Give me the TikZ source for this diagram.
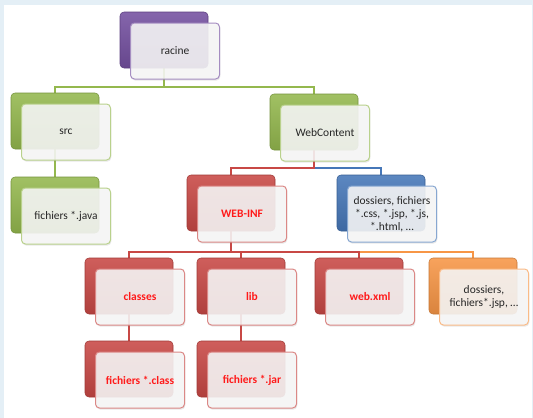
\documentclass[tikz,border=0pt]{standalone}
\usepackage{fontspec}
\setmainfont{Carlito}
\usetikzlibrary{shadows}
\pgfdeclarelayer{background}
\pgfdeclarelayer{bottom}
\pgfsetlayers{bottom,background,main}
\definecolor{cpurple}{HTML}{7450A0}
\definecolor{cgreen}{HTML}{94B84E}
\definecolor{cred}{HTML}{C84845}
\definecolor{cblue}{HTML}{4677B8}
\definecolor{corange}{HTML}{F79646}
\definecolor{cframe}{HTML}{E4EFF6}
\definecolor{ctxt}{HTML}{262626}
\definecolor{credtxt}{HTML}{FF1A1A}
\tikzset{
  backbox/.style={rounded corners=3pt, minimum width=66pt, minimum height=42pt,
    inner sep=0pt, top color=#1!88!white, bottom color=#1!88!black, draw=#1!80!black, line width=0.4pt},
  frontbox/.style={rounded corners=3pt, minimum width=66.75pt, minimum height=42pt,
    inner sep=1pt, align=center, draw=#1!65!white, line width=0.75pt,
    fill=gray!6, fill opacity=0.88, text opacity=1, draw opacity=1,
    drop shadow={opacity=0.18, shadow xshift=0.6pt, shadow yshift=-1.2pt},
    font=\fontsize{8.6}{9.8}\selectfont},
  plaintxt/.style={text=ctxt},
  redtxt/.style={text=credtxt, font=\fontsize{8.6}{9.8}\selectfont\bfseries},
  link/.style={draw=#1, line width=1.5pt}
}
\newcommand\orgbox[6]{%
  \node[backbox=#4] (#1b) at (#2+44,#3+28) {};
  \node[frontbox=#4, #6] (#1) at (#2+55,#3+39) {#5};
}
\begin{document}
\begin{tikzpicture}[x=0.75pt, y=-0.75pt]
\useasboundingbox (0,0) rectangle (533,418);
\begin{pgfonlayer}{bottom}
\fill[white] (0,0) rectangle (533,418);
\fill[cframe] (0,0) rectangle (533,5);
\fill[cframe] (0,0) rectangle (4,418);
\fill[cframe] (532,0) rectangle (533,418);
\end{pgfonlayer}

\orgbox{racine}{120}{12}{cpurple}{racine}{plaintxt}
\orgbox{src}{11}{93}{cgreen}{src}{plaintxt}
\orgbox{java}{11}{177}{cgreen}{fichiers *.java}{plaintxt}
\orgbox{web}{270}{94}{cgreen}{WebContent}{plaintxt}
\orgbox{webinf}{187}{175}{cred}{WEB-INF}{redtxt}
\orgbox{dos}{337}{175}{cblue}{dossiers, fichiers\\*.css, *.jsp, *.js,\\*.html, …}{plaintxt}
\orgbox{classes}{85}{258}{cred}{classes}{redtxt}
\orgbox{lib}{197}{258}{cred}{lib}{redtxt}
\orgbox{xml}{315}{258}{cred}{web.xml}{redtxt}
\orgbox{dos2}{429}{258}{corange}{dossiers,\\fichiers*.jsp, …}{plaintxt}
\orgbox{cls}{85}{341}{cred}{fichiers *.class}{redtxt}
\orgbox{jar}{197}{341}{cred}{fichiers *.jar}{redtxt}

\begin{pgfonlayer}{background}
  \draw[link=cgreen] (racineb.center) -- (racineb.center |- 0,87) -| (srcb.north);
  \draw[link=cgreen] (racineb.center) -- (racineb.center |- 0,87) -| (webb.north);
  \draw[link=cgreen] (srcb.center) -- (javab.north);
  \draw[link=cblue] (webb.center) -- (webb.center |- 0,168) -| (dosb.north);
  \draw[link=cred] (webb.center) -- (webb.center |- 0,168) -| (webinfb.north);
  \draw[link=corange] (webinfb.center) -- (webinfb.center |- 0,252) -| (dos2b.north);
  \draw[link=cred] (webinfb.center) -- (webinfb.center |- 0,252) -| (classesb.north);
  \draw[link=cred] (webinfb.center) -- (webinfb.center |- 0,252) -| (libb.north);
  \draw[link=cred] (webinfb.center) -- (webinfb.center |- 0,252) -| (xmlb.north);
  \draw[link=cred] (classesb.center) -- (clsb.north);
  \draw[link=cred] (libb.center) -- (jarb.north);
\end{pgfonlayer}
\end{tikzpicture}
\end{document}
